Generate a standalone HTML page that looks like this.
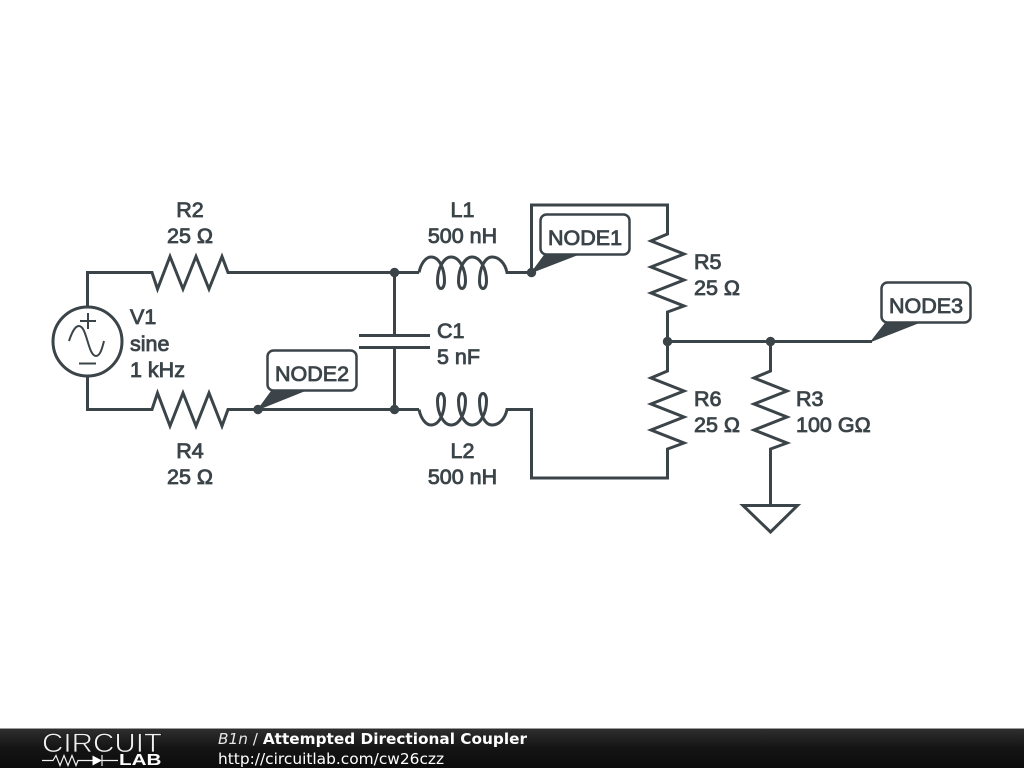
<!DOCTYPE html>
<html><head><meta charset="utf-8"><style>
html,body{margin:0;padding:0;background:#fff;width:1024px;height:768px;overflow:hidden}
svg{display:block}
.w{fill:none;stroke:#3b4449;stroke-width:3;stroke-linejoin:miter}
text.l{font-family:"Liberation Sans",Arial,sans-serif;font-size:21.5px;fill:#3b4449;stroke:#3b4449;stroke-width:.85}
.m{text-anchor:middle}
.f{font-family:"DejaVu Sans",sans-serif;font-size:15.3px;fill:#fff}
</style></head><body>
<svg width="1024" height="768" viewBox="0 0 1024 768" xmlns="http://www.w3.org/2000/svg">
<defs><linearGradient id="g" x1="0" y1="0" x2="0" y2="1"><stop offset="0" stop-color="#2e2e2e"/><stop offset=".5" stop-color="#141414"/><stop offset="1" stop-color="#0c0c0c"/></linearGradient></defs>
<rect width="1024" height="768" fill="#fff"/>
<!-- wires -->
<path class="w" d="M87.5 307V272.5H152L157.5 289L170 256.5L183 289L196 256.5L209 289L222 256.5L228 272.5H419"/>
<path class="w" d="M87.5 376V409.5H152L157.5 393L170 426L183 393L196 426L209 393L222 426L228 409.5H419"/>
<circle class="w" cx="87.5" cy="341.5" r="34.5"/>
<path class="w" style="stroke-width:2" d="M80 321H96M88 313V329M79 363.500H96M69 341C72 332 75 326 79 326C87 326 88 356 96 356C100 356 102 349 104 341"/>
<path class="w" d="M419 272.500C421 263 426 257 431 257C440 257 444.500 270 444.500 281C444.500 291 437.500 291 437.500 281C437.500 268 444 257 451 257C460 257 465.500 270 465.500 281C465.500 291 458.500 291 458.500 281C458.500 268 465 257 472 257C481 257 486.500 270 486.500 281C486.500 291 479.500 291 479.500 281C479.500 268 485 257 492 257C499 257 505 263 507 272.500H531.500"/>
<path class="w" transform="translate(0,682) scale(1,-1)" d="M419 272.500C421 263 426 257 431 257C440 257 444.500 270 444.500 281C444.500 291 437.500 291 437.500 281C437.500 268 444 257 451 257C460 257 465.500 270 465.500 281C465.500 291 458.500 291 458.500 281C458.500 268 465 257 472 257C481 257 486.500 270 486.500 281C486.500 291 479.500 291 479.500 281C479.500 268 485 257 492 257C499 257 505 263 507 272.500H531.500V204.500"/>
<path class="w" d="M394.500 272.500V335M394.500 348V409.500M359 335.500H430M359 347.500H430"/>
<path class="w" d="M531.500 272.500V205H667.500V234L651 241L684 254L651 267L684 280L651 293L684 306L667.500 312V371L651 378L684 391L651 404L684 417L651 430L684 443L667.500 449V478H531.500V409.500"/>
<path class="w" d="M667.500 341.500H872M770.500 341.500V371L754 378L787 391L754 404L787 417L754 430L787 443L770.500 449V505.500M743 505.500H797.500L770.500 532Z"/>
<g fill="#3b4449" stroke="#3b4449" stroke-width="1" stroke-linejoin="round">
<circle cx="394.500" cy="272.500" r="4.200"/><circle cx="394.500" cy="409.500" r="4.200"/>
<circle cx="531.500" cy="272.500" r="4.200"/><circle cx="258" cy="409.500" r="4.200"/>
<circle cx="667.500" cy="341.500" r="4.200"/><circle cx="770.500" cy="341.500" r="4.200"/>
<path d="M258 409.500L273 389H309Z"/><path d="M531.500 272.500L546 253H582Z"/><path d="M871 341.500L887 321H923Z"/>
</g>
<g fill="#fff" stroke="#3b4449" stroke-width="2.500">
<rect x="267.500" y="350.500" width="89" height="40" rx="6"/>
<rect x="540.500" y="214.500" width="89" height="40" rx="6"/>
<rect x="881.500" y="282.500" width="89" height="40" rx="6"/>
</g>
<!-- labels -->
<text class="l m" x="190" y="217">R2</text><text class="l m" x="190" y="243">25 Ω</text>
<text class="l m" x="190" y="458">R4</text><text class="l m" x="190" y="484">25 Ω</text>
<text class="l m" x="462.500" y="217">L1</text><text class="l m" x="462.500" y="243">500 nH</text>
<text class="l m" x="462.500" y="458">L2</text><text class="l m" x="462.500" y="484">500 nH</text>
<text class="l" x="130" y="324">V1</text><text class="l" x="130" y="351">sine</text><text class="l" x="130" y="377">1 kHz</text>
<text class="l" x="437" y="338">C1</text><text class="l" x="437" y="364">5 nF</text>
<text class="l" x="694" y="269">R5</text><text class="l" x="694" y="295">25 Ω</text>
<text class="l" x="694" y="406">R6</text><text class="l" x="694" y="432">25 Ω</text>
<text class="l" x="796" y="406">R3</text><text class="l" x="796" y="432">100 GΩ</text>
<text class="l m" x="312" y="381">NODE2</text>
<text class="l m" x="585" y="245">NODE1</text>
<text class="l m" x="926" y="313">NODE3</text>
<!-- footer -->
<rect x="0" y="729" width="1024" height="39" fill="url(#g)"/>
<rect x="0" y="728" width="1024" height="1" fill="#9a9a9a"/>
<text x="42" y="752" font-family="Liberation Sans,sans-serif" font-size="26.500" fill="#f0f0f0" stroke="#161616" stroke-width=".7" textLength="120" lengthAdjust="spacingAndGlyphs">CIRCUIT</text>
<path fill="none" stroke="#f0f0f0" stroke-width="1.200" d="M42 760.500H53L56 755.500L60 765.500L64 755.500L68 765.500L72 755.500L76 765.500L78 760.500H93M102 755V766M102 760.500H118"/>
<path fill="#fff" d="M92.500 755.500L102 760.500L92.500 765.500Z"/>
<text x="119" y="765" font-family="Liberation Sans,sans-serif" font-weight="bold" font-size="15.500" fill="#fff" textLength="42.500" lengthAdjust="spacingAndGlyphs">LAB</text>
<text class="f" x="218" y="744"><tspan font-style="italic" fill="#e6e6e6">B1n</tspan><tspan fill="#e6e6e6"> / </tspan><tspan font-weight="bold">Attempted Directional Coupler</tspan></text>
<text class="f" style="font-size:15.4px" x="218" y="764" fill="#f0f0f0">http://circuitlab.com/cw26czz</text>
</svg>
</body></html>
